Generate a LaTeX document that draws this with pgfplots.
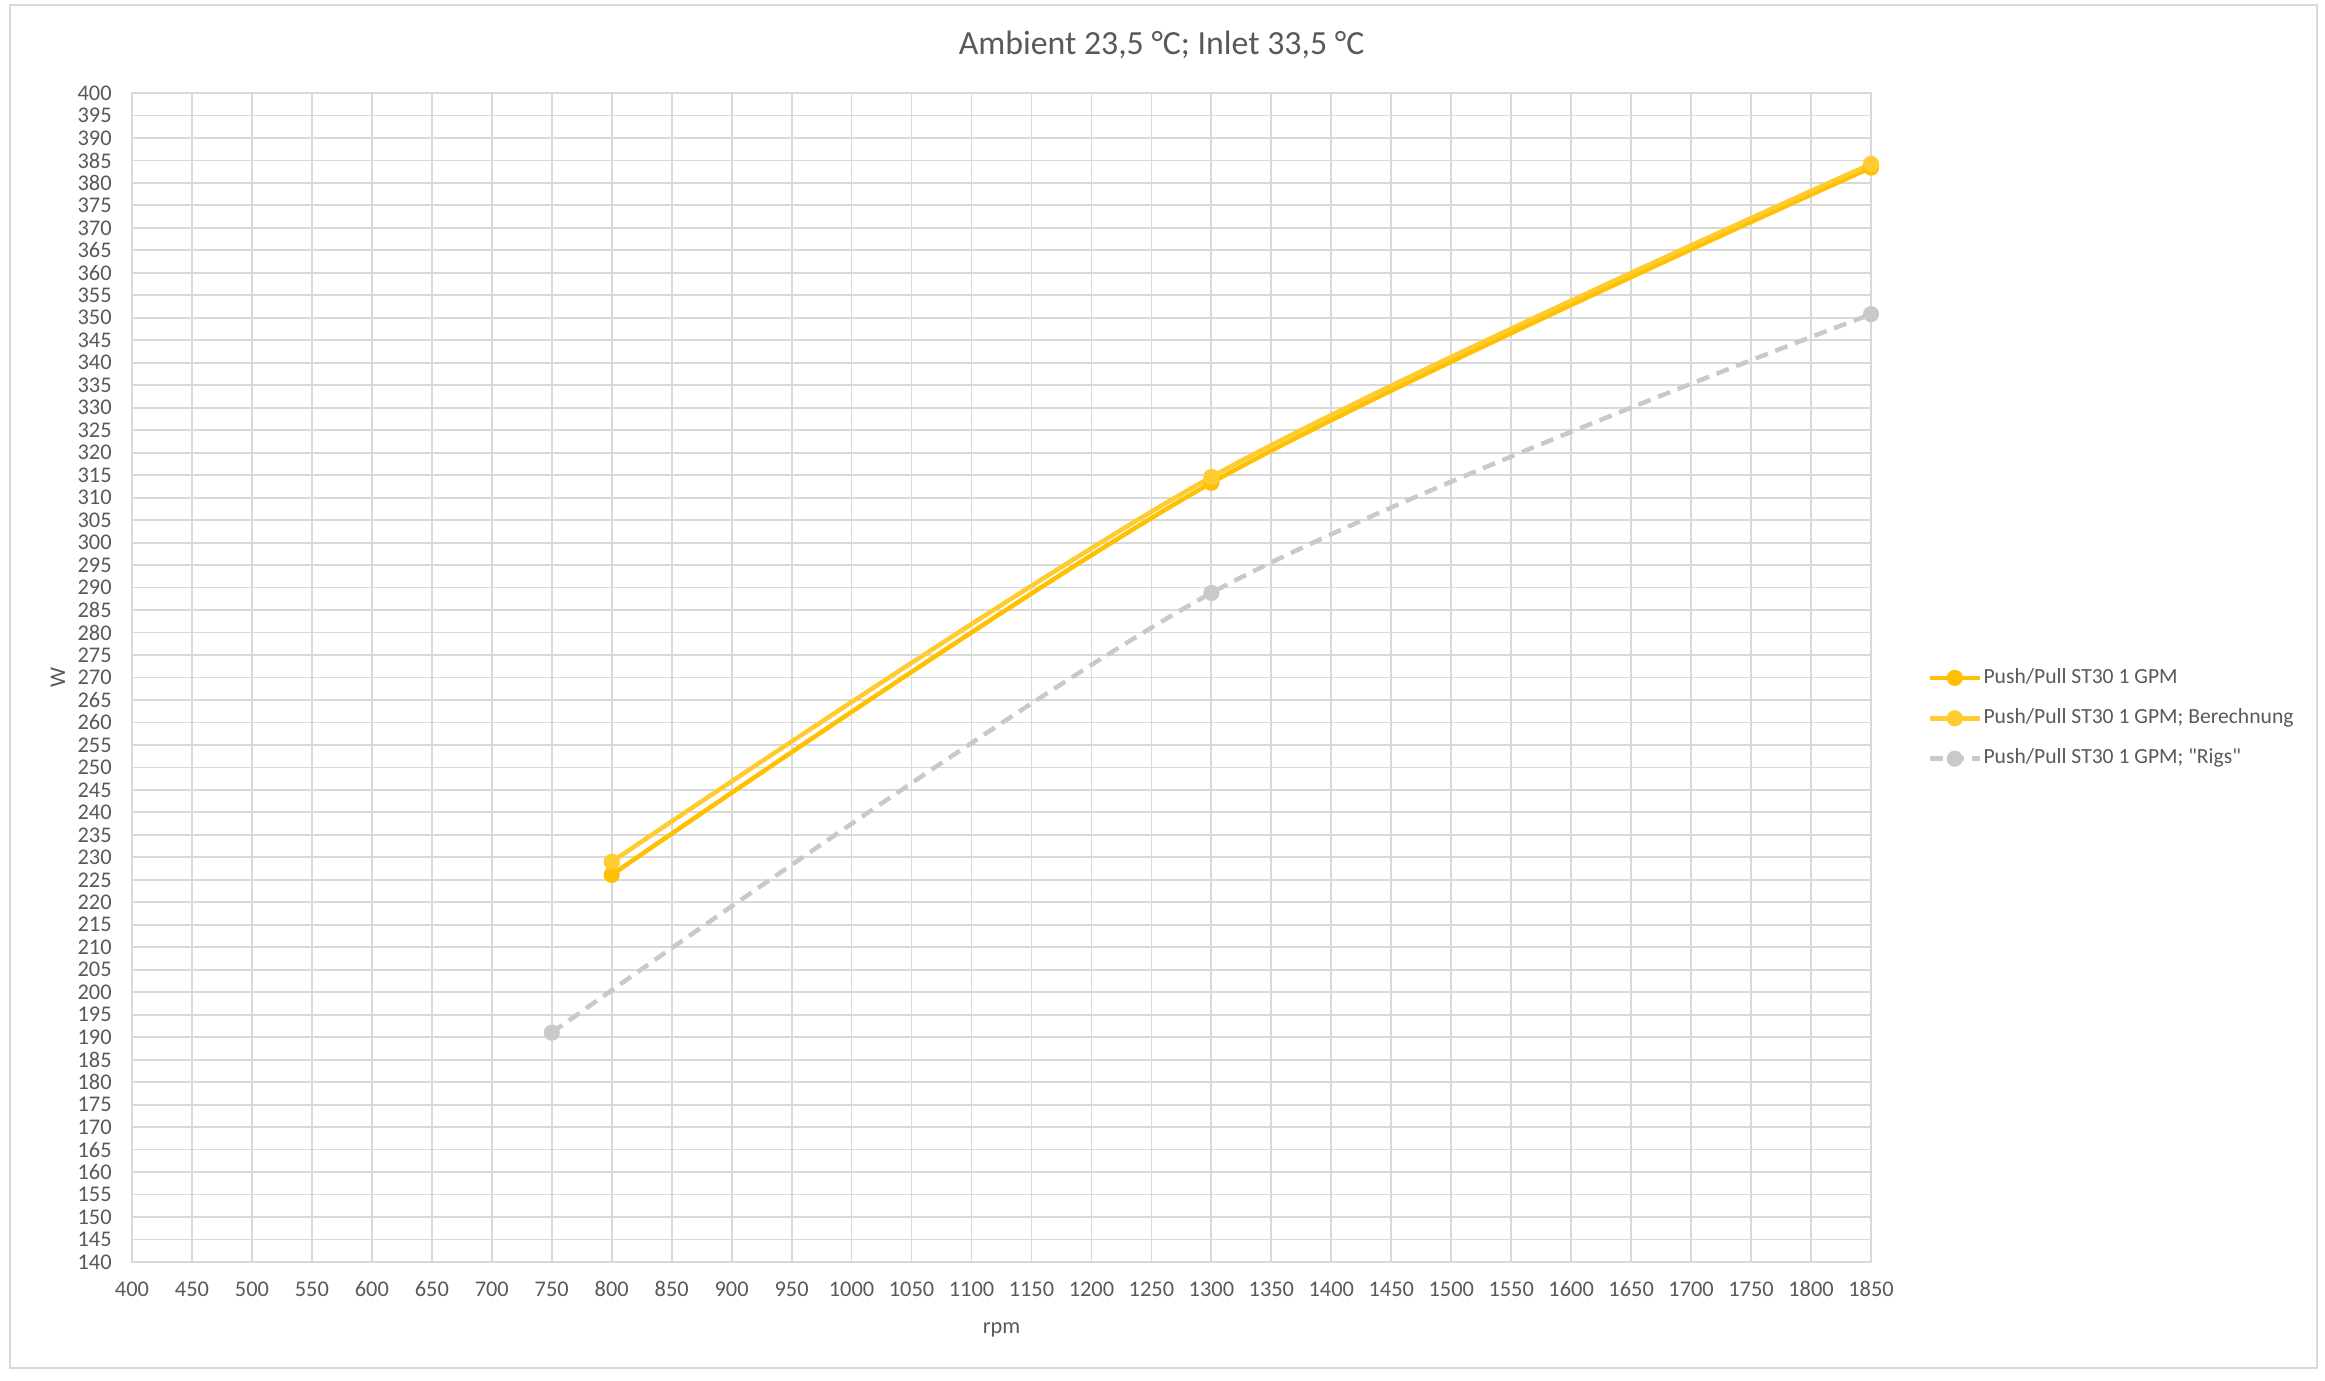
\documentclass[border=0pt]{standalone}
\usepackage{fontspec}
\setmainfont{Carlito}
\newfontfamily\plainfont{Carlito}
\usepackage{pgfplots}
\pgfplotsset{compat=1.18}
\definecolor{sA}{HTML}{FFC000}
\definecolor{sB}{HTML}{FFCB2F}
\definecolor{sC}{HTML}{C9C9C9}
\definecolor{gridc}{HTML}{D9D9D9}
\definecolor{txt}{HTML}{595959}

\begin{document}
\begin{tikzpicture}
\useasboundingbox (0,0) rectangle (1162.5pt,690.5pt);
\fill[white] (0,0) rectangle (1162.5pt,690.5pt);
\draw[gridc, line width=1pt] (5pt,6.5pt) rectangle (1158.5pt,688pt);
\node[anchor=base, text=txt, font=\fontsize{16.9}{20}\selectfont] at (580.75pt,663pt) {Ambient 23,5 °C; Inlet 33,5 °C};
\begin{axis}[
  at={(66pt,59.5pt)}, anchor=south west,
  scale only axis, width=869.5pt, height=584.5pt,
  xmin=400, xmax=1850, ymin=140, ymax=400,
  xtick={400,450,...,1850}, ytick={140,145,...,400},
  grid=major, major grid style={gridc, line width=0.9pt},
  axis line style={gridc, line width=0.9pt},
  major tick length=0pt,
  clip=false,
  /pgf/number format/assume math mode=true,
  /pgf/number format/set thousands separator={},
  ticklabel style={font=\fontsize{11.2}{13}\selectfont, text=txt},
  xticklabel style={anchor=base, yshift=-17.3pt},
  yticklabel style={anchor=east, inner sep=0pt, xshift=-10pt},
  xlabel={rpm}, ylabel={W},
  label style={font=\fontsize{11.2}{13}\selectfont, text=txt},
  xlabel style={at={(axis description cs:0.5,-0.06074)}, anchor=base},
  ylabel style={at={(axis description cs:-0.04255,0.5)}, anchor=center},
  legend style={at={(axis description cs:1.0328,0.4651)}, anchor=west, draw=none, fill=none,
    inner sep=0pt, outer sep=0pt, font=\fontsize{10.8}{12}\selectfont, text=txt, row sep=8pt,
    nodes={inner sep=1pt, text height=7.7pt, text depth=2.5pt}},
  legend cell align=left,
  legend image code/.code={\draw[mark repeat=2, mark phase=2, #1] plot coordinates {(0pt,0pt) (12.25pt,0pt) (24.5pt,0pt)};},
]
\addplot[sA, line width=2.25pt, smooth, mark=*, mark size=2.9pt, mark options={solid, fill=sA, draw=sA}]
  coordinates {(800,226.1) (1300,313.3) (1850,383.4)};
\addlegendentry{Push/Pull ST30 1 GPM}
\addplot[sB, line width=2.25pt, smooth, mark=*, mark size=2.9pt, mark options={solid, fill=sB, draw=sB}]
  coordinates {(800,229.0) (1300,314.6) (1850,384.2)};
\addlegendentry{Push/Pull ST30 1 GPM; Berechnung}
\addplot[sC, line width=2.25pt, smooth, dash pattern=on 6.5pt off 4pt, mark=*, mark size=2.9pt, mark options={solid, fill=sC, draw=sC}]
  coordinates {(750,191.0) (1300,288.8) (1850,350.8)};
\addlegendentry{\plainfont Push/Pull ST30 1 GPM; "Rigs"}
\end{axis}
\end{tikzpicture}
\end{document}
